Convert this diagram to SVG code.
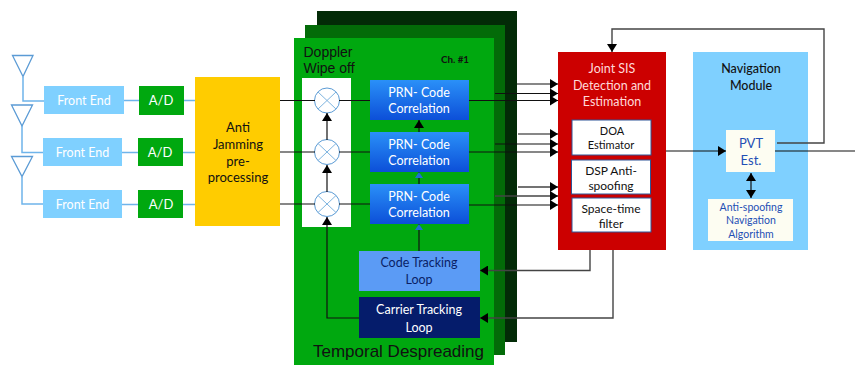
<svg xmlns="http://www.w3.org/2000/svg" width="855" height="365" viewBox="0 0 855 365">
<style>
text{font-family:Lato,"Noto Sans",sans-serif;text-anchor:middle;font-size:13px}
.w{fill:#fff}.k{fill:#111}.b{fill:#1f4fb5}
.s{font-size:12.5px}
.ant{fill:none;stroke:#5b9bd5;stroke-width:1.3}
.blue{fill:none;stroke:#6fb4ea;stroke-width:1.5}
.fe{fill:#7fd0ff}.ad{fill:#00a80f}
.prn{fill:url(#pg)}
.c{fill:none;stroke:#111;stroke-width:1.2}
.g{fill:none;stroke:#444;stroke-width:1.4}
.a{marker-end:url(#ah)}
.x{fill:#fff;stroke:#5b9bd5;stroke-width:1}
.xl{stroke:#7fb5e0;stroke-width:1}
.arial{font-family:"Liberation Sans",Arial,sans-serif}
.box{fill:#fff;stroke:#2f5597;stroke-width:1}
</style>
<defs>
<linearGradient id="pg" x1="0" y1="0" x2="0" y2="1"><stop offset="0" stop-color="#2a90f8"/><stop offset="1" stop-color="#0c4fd8"/></linearGradient>
<marker id="ah" markerUnits="userSpaceOnUse" markerWidth="9" markerHeight="10" refX="8" refY="5" orient="auto"><path d="M0 0L8 5L0 10z" fill="#000"/></marker>
<marker id="ahs" markerUnits="userSpaceOnUse" markerWidth="9" markerHeight="10" refX="8" refY="5" orient="auto-start-reverse"><path d="M0 0L8 5L0 10z" fill="#000"/></marker>
<marker id="ahb" markerUnits="userSpaceOnUse" markerWidth="7" markerHeight="8" refX="6" refY="4" orient="auto"><path d="M0 0L6 4L0 8z" fill="#1f6fd0"/></marker>
</defs>

<g id="channel-back"><rect x="317" y="11" width="200" height="331" fill="#032b07"/></g>
<g id="channel-mid"><rect x="305" y="25" width="200" height="330" fill="#036b08"/></g>
<g id="temporal-despreading">
<rect x="294" y="38" width="200" height="327" fill="#00a80f"/>
<text x="398.500" y="357" class="arial k" style="font-size:17px">Temporal Despreading</text>
<text x="455" y="63" class="k" style="font-size:9.8px;font-weight:700">Ch. #1</text>
</g>
<g id="doppler-wipe-off">
<rect x="302" y="78" width="49" height="149" fill="#fff"/>
<text x="328" y="57" class="arial k" style="font-size:14px">Doppler</text>
<text x="329" y="73" class="arial k" style="font-size:14px">Wipe off</text>
</g>

<g id="fe1"><rect class="fe" x="44" y="86" width="80" height="28"/><text x="84" y="105" class="w s">Front End</text></g>
<g id="fe2"><rect class="fe" x="43" y="138" width="79" height="28"/><text x="82.500" y="157" class="w s">Front End</text></g>
<g id="fe3"><rect class="fe" x="43" y="190" width="79" height="28"/><text x="82.500" y="209" class="w s">Front End</text></g>
<g id="ad1"><rect class="ad" x="139" y="86" width="45" height="29"/><text x="161" y="105" class="w">A/D</text></g>
<g id="ad2"><rect class="ad" x="138" y="138" width="45" height="28"/><text x="160" y="157" class="w">A/D</text></g>
<g id="ad3"><rect class="ad" x="138" y="190" width="45" height="28"/><text x="161" y="209" class="w">A/D</text></g>
<g id="anti-jamming"><rect x="195" y="77" width="85" height="149" fill="#ffcc00"/>
<text x="238" y="132" class="k">Anti</text><text x="238" y="149" class="k">Jamming</text><text x="238" y="166" class="k">pre-</text><text x="238" y="182" class="k">processing</text></g>

<g id="mix1"><circle class="x" cx="327" cy="100.500" r="12.500"/><path class="xl" d="M318 92L336 109M336 92L318 109"/></g>
<g id="mix2"><circle class="x" cx="327" cy="152" r="12.500"/><path class="xl" d="M318 143.500L336 160.500M336 143.500L318 160.500"/></g>
<g id="mix3"><circle class="x" cx="327" cy="204" r="12.500"/><path class="xl" d="M318 195.500L336 212.500M336 195.500L318 212.500"/></g>

<g id="prn1"><rect class="prn" x="370" y="80" width="99" height="40"/><text x="419" y="97" class="w s">PRN- Code</text><text x="419" y="113" class="w s">Correlation</text></g>
<g id="prn2"><rect class="prn" x="370" y="132" width="99" height="40"/><text x="419" y="149" class="w s">PRN- Code</text><text x="419" y="165" class="w s">Correlation</text></g>
<g id="prn3"><rect class="prn" x="370" y="184" width="99" height="40"/><text x="419" y="201" class="w s">PRN- Code</text><text x="419" y="217" class="w s">Correlation</text></g>
<g id="code-tracking"><rect x="359" y="251" width="121" height="40" fill="#5b9bf5"/><text x="419" y="267" fill="#0a1f66" class="s">Code Tracking</text><text x="419" y="284" fill="#0a1f66" class="s">Loop</text></g>
<g id="carrier-tracking"><rect x="359" y="297" width="121" height="41" fill="#051c6b"/><text x="419" y="314" class="w s">Carrier Tracking</text><text x="419" y="332" class="w s">Loop</text></g>

<g id="joint-sis"><rect x="558" y="52" width="108" height="198" fill="#cc0000"/>
<text x="612" y="73" fill="#ffd9d9" class="s">Joint SIS</text><text x="612" y="90" fill="#ffd9d9" class="s">Detection and</text><text x="612" y="106" fill="#ffd9d9" class="s">Estimation</text></g>
<g id="doa"><rect class="box" x="572" y="120" width="79" height="35"/><text x="612" y="135" class="k" style="font-size:11px">DOA</text><text x="611" y="149" class="k" style="font-size:11px">Estimator</text></g>
<g id="dsp"><rect class="box" x="571.500" y="160" width="79" height="34"/><text x="611" y="175" class="k" style="font-size:12px">DSP Anti-</text><text x="611" y="190" class="k" style="font-size:12px">spoofing</text></g>
<g id="space-time"><rect class="box" x="572" y="198" width="79" height="34"/><text x="611" y="213" class="k" style="font-size:12px">Space-time</text><text x="611" y="228" class="k" style="font-size:12px">filter</text></g>

<g id="navigation-module"><rect x="693" y="52" width="115" height="198" fill="#7fd0ff"/>
<text x="751" y="73" class="k s" style="font-weight:500">Navigation</text><text x="751" y="90" class="k s" style="font-weight:500">Module</text></g>
<g id="pvt"><rect x="726" y="130" width="49" height="42" fill="#fdfdf2"/><text x="751" y="148" class="b">PVT</text><text x="751" y="165" class="b">Est.</text></g>
<g id="algo"><rect x="708" y="199" width="85" height="42" fill="#fdfdf2"/><text x="751" y="211" class="b" style="font-size:10.500px">Anti-spoofing</text><text x="751" y="224" class="b" style="font-size:10.500px">Navigation</text><text x="751" y="238" class="b" style="font-size:10.500px">Algorithm</text></g>

<g id="connectors">
<path class="ant" d="M12.500 55.500H33L23 76.500z"/><path class="blue" d="M23 77V101H44"/>
<path class="ant" d="M11.500 105H32.500L22 126z"/><path class="blue" d="M22 126V152.500H43"/>
<path class="ant" d="M11.500 156.500H32.500L22 176.500z"/><path class="blue" d="M22 177V204H43"/>
<path class="blue" d="M124 100.500H139M184 100.500H195M122 152.500H138M183 152.500H195M122 204.500H138M183 204.500H195"/>
<path class="c" d="M280 100.500H315M339 100.500H370M280 152H315M339 152H370M280 204H315M339 204H370"/>
<path class="c a" d="M327 140V113"/><path class="c a" d="M327 192V165"/>
<path class="c a" d="M359 318H327V217"/>
<path class="c a" d="M419 132V120"/>
<path class="c" d="M419 184V172" marker-end="url(#ahb)"/>
<path class="c" d="M419 251V224" marker-end="url(#ahb)"/>
<path class="c a" d="M517 84H558"/><path class="c a" d="M495 93.500H558"/><path class="c a" d="M469 100.500H558"/>
<path class="c a" d="M518 134H558"/><path class="c a" d="M495 144H558"/><path class="c a" d="M469 152H558"/>
<path class="g a" d="M518 187H558"/><path class="g a" d="M495 196H558"/><path class="c a" d="M469 205H558"/>
<path class="g a" d="M590 250V270.500H480"/>
<path class="g a" d="M613 250V318H480"/>
<path class="g a" d="M777 143H824V29H612V52"/>
<path class="c a" d="M666 151H726"/>
<path class="c" d="M775 151H855"/>
<path class="c" d="M751 173V198" stroke-width="1.500" marker-start="url(#ahs)" marker-end="url(#ahs)"/>
</g>
</svg>
